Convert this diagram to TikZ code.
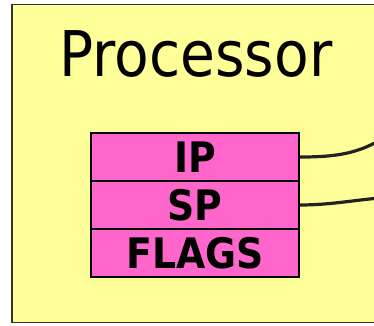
\documentclass[tikz,border=0pt]{standalone}
\usepackage{fontspec}
\setmainfont{DejaVu Sans}
\newfontfamily\condfont{DejaVu Sans Condensed}
\definecolor{cpuyellow}{HTML}{FFFF99}
\definecolor{regpink}{HTML}{FF66CC}
\definecolor{wire}{HTML}{222222}
\begin{document}
\begin{tikzpicture}[x=1pt,y=-1pt,
  regbox/.style={draw=black,line width=1.3pt,fill=regpink,minimum width=208pt,minimum height=48pt,inner sep=0pt,
    font=\condfont\bfseries\fontsize{42}{42}\selectfont},
  link/.style={draw=wire,line width=3.2pt}]
\useasboundingbox (0,0) rectangle (374,325);
\clip (0,0) rectangle (374,325);
% processor frame
\draw[fill=cpuyellow,draw=black!80,line width=1.5pt] (12,4.5) rectangle (400,322.5);
\node[font=\condfont\fontsize{63}{63}\selectfont,anchor=base] (title) at (196,76) {Processor};
% register file
\node[regbox] (ip) at (195,157) {IP};
\node[regbox] (sp) at (195,205) {SP};
\node[regbox] (flags) at (195,253) {FLAGS};
\coordinate (ipout) at (380,140);
\coordinate (spout) at (380,198);
\draw[link] (ip.east) .. controls (330,157) and (355,155) .. (ipout);
\draw[link] (sp.east) .. controls (330,205) and (355,200) .. (spout);
\end{tikzpicture}
\end{document}
